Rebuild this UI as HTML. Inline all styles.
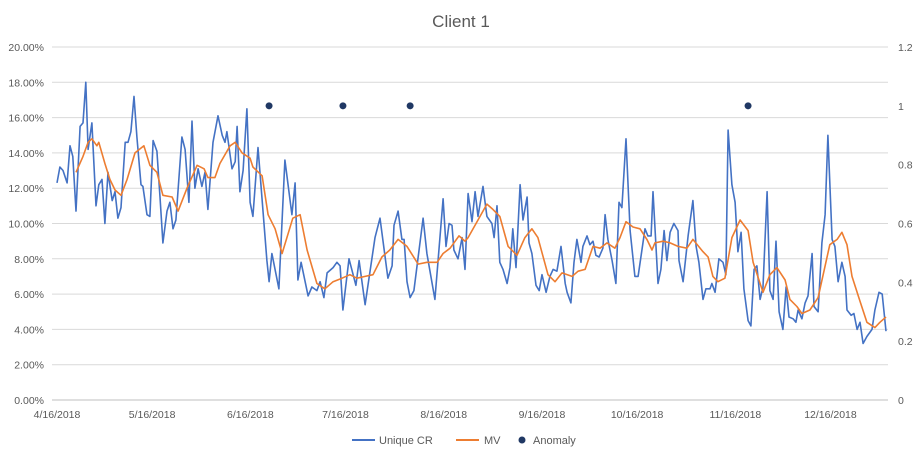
<!DOCTYPE html>
<html><head><meta charset="utf-8"><style>
body{margin:0;background:#fff;}
svg{display:block;font-family:"Liberation Sans",sans-serif;}
</style></head><body>
<svg id="chart" width="922" height="461">
<rect width="922" height="461" fill="#fff"/>
<text x="461" y="27" text-anchor="middle" font-size="17" fill="#595959">Client 1</text>
<g id="grid"></g>
<g id="yl"></g>
<g id="yr"></g>
<g id="xa"></g>
<g id="series"></g>
<g>
<g><line x1="352" y1="440" x2="375" y2="440" stroke="#4472c4" stroke-width="2"/><text x="379" y="444" font-size="11" fill="#595959">Unique CR</text></g>
<g><line x1="456" y1="440" x2="479" y2="440" stroke="#ed7d31" stroke-width="2"/><text x="484" y="444" font-size="11" fill="#595959">MV</text></g>
<g><circle cx="522" cy="440" r="3.5" fill="#203864"/><text x="533" y="444" font-size="11" fill="#595959">Anomaly</text></g>
</g>
</svg>
<script>
const blueDays=[0,0.9,1.9,3.2,4.1,5.0,6.0,7.3,8.2,9.1,9.8,11.0,11.4,12.3,13.2,14.2,15.1,16.1,17.4,18.3,19.2,20.2,21.5,22.4,23.3,24.3,25.2,26.5,27.1,28.4,29.3,30.3,31.5,32.5,33.4,34.7,35.6,36.6,37.5,39.4,40.4,41.6,42.6,43.5,44.5,45.7,46.7,47.6,49.2,50.8,52.1,53.0,53.6,55.2,56.2,56.8,57.7,58.7,59.9,60.9,61.8,63.4,66.2,66.9,67.8,70.0,71.9,74.1,75.1,76.0,77.0,79.2,80.4,82.0,83.0,84.2,85.2,87.1,88.3,89.3,90.2,92.1,94.3,95.3,97.2,100.3,101.9,104.4,105.7,106.3,107.6,108.8,109.5,110.4,111.4,112.6,115.5,116.7,119.2,121.8,122.7,123.7,124.6,125.2,126.5,127.8,128.7,129.7,130.9,131.9,132.8,134.4,135.6,137.2,137.9,138.8,139.7,140.7,142.0,142.9,143.8,144.8,146.1,147.0,148.3,148.9,149.8,151.1,152.1,153.0,154.3,155.5,156.5,157.7,159.0,160.3,160.9,162.1,163.1,164.0,165.3,165.9,167.2,168.1,169.1,170.0,171.0,172.2,172.9,173.8,175.1,176.3,177.3,178.2,179.5,180.8,182.3,183.3,185.5,186.4,187.4,188.0,189.6,190.5,191.5,192.4,193.4,194.6,195.9,196.2,197.5,199.1,200.6,201.6,202.5,203.8,204.7,206.0,206.6,207.6,208.8,210.1,211.0,211.7,212.9,213.9,214.8,215.8,216.7,218.0,218.9,219.9,220.8,221.8,222.7,224.0,224.9,225.9,226.8,227.8,229.0,230.0,230.9,232.2,233.1,233.8,235.0,236.0,236.9,238.2,238.8,240.1,241.3,242.3,243.2,244.5,245.4,246.4,247.6,248.6,249.2,250.5,251.4,252.4,253.3,254.3,255.5,257.1,258.0,259.3,260.3,261.5];
const uniqueCR=[12.3,13.2,13.0,12.3,14.4,13.8,10.7,15.5,15.7,18.0,14.2,15.7,14.3,11.0,12.2,12.5,10.0,12.9,11.3,11.8,10.3,10.9,14.6,14.6,15.2,17.2,14.9,12.2,12.1,10.5,10.4,14.7,14.1,11.5,8.9,10.7,11.2,9.7,10.2,14.9,14.2,11.2,15.8,12.0,13.1,12.1,12.9,10.8,14.6,16.1,15.0,14.6,15.2,13.1,13.5,15.5,11.8,13.0,16.5,11.2,10.4,14.3,7.9,6.7,8.3,6.3,13.6,10.5,12.3,6.8,7.8,5.9,6.4,6.2,6.7,5.8,7.2,7.5,7.8,7.6,5.1,8.0,6.5,7.9,5.4,9.2,10.3,6.9,7.6,9.9,10.7,9.1,9.1,6.7,5.8,6.2,10.3,8.3,5.7,11.4,8.7,10.0,9.9,8.5,8.0,9.2,7.4,11.7,10.1,11.8,10.4,12.1,10.4,10.0,9.2,11.0,7.8,7.4,6.6,7.5,9.7,7.5,12.2,10.2,11.5,8.9,8.3,6.5,6.2,7.1,6.1,7.0,7.4,7.3,8.7,6.6,6.1,5.5,7.8,9.1,7.8,8.7,9.3,8.8,9.0,8.2,8.1,8.6,10.5,9.1,7.9,6.6,11.2,10.9,14.8,9.6,7.0,7.0,9.7,9.3,9.3,11.8,6.6,7.4,9.6,7.9,9.5,10.0,9.6,7.9,6.7,9.3,11.3,8.7,7.8,5.7,6.3,6.3,6.6,6.1,8.0,7.8,7.1,15.3,12.2,11.2,8.4,9.5,6.3,4.5,4.2,7.4,7.6,5.7,6.4,11.8,6.2,5.7,9.0,5.0,4.0,6.4,4.7,4.6,4.4,5.1,4.6,5.5,5.9,8.3,5.3,5.0,8.9,10.5,15.0,9.1,8.7,6.7,7.8,7.0,5.1,4.8,4.9,4.0,4.4,3.2,3.6,4.0,5.1,6.1,6.0,3.9];
const mvDays=[6.0,8.2,9.8,11.0,12.6,13.2,15.1,16.7,18.3,20.2,22.1,24.6,27.4,29.3,31.5,33.4,36.3,38.2,41.0,44.2,46.4,47.6,49.8,51.4,54.6,56.2,58.4,60.9,61.8,64.7,66.6,68.8,71.0,74.4,76.7,78.9,82.0,84.5,87.1,89.9,92.4,94.6,97.2,99.7,102.5,105.0,107.6,110.4,113.9,116.7,119.9,121.8,124.0,126.8,128.7,129.7,132.8,135.6,137.5,139.7,142.3,145.1,147.6,149.8,151.7,154.9,157.1,159.3,162.5,164.4,166.6,169.1,171.3,173.5,176.0,177.6,179.5,181.7,183.9,186.1,187.7,188.6,191.2,193.4,195.9,198.7,200.6,203.8,205.4,206.9,208.5,210.7,212.9,215.5,218.0,219.6,222.7,224.9,227.1,229.7,231.2,233.4,235.0,237.5,240.1,242.3,243.8,246.1,247.6,249.2,250.8,253.3,255.5,258.0,259.6,261.5];
const mvValues=[12.9,13.8,14.6,14.8,14.4,14.6,13.4,12.5,11.9,11.6,12.5,14.0,14.4,13.3,12.9,11.6,11.5,10.7,12.0,13.3,13.1,12.6,12.6,13.4,14.4,14.6,14.0,13.7,13.2,12.7,10.5,9.7,8.3,10.3,10.5,8.5,6.6,6.3,6.7,6.9,7.1,6.9,7.0,7.1,8.1,8.5,9.1,8.7,7.7,7.8,7.8,8.3,8.6,9.3,9.0,9.2,10.2,11.1,10.8,10.4,8.7,8.2,9.2,9.7,9.2,7.1,6.7,7.2,7.0,7.3,7.4,8.7,8.6,8.9,8.6,9.2,10.1,9.8,9.7,9.1,8.5,8.9,9.0,8.9,8.7,8.6,9.1,8.4,8.1,7.0,6.7,6.9,9.2,10.2,9.6,7.8,6.1,7.1,7.5,6.8,5.7,5.3,4.9,5.1,5.8,7.6,8.8,9.1,9.5,8.8,7.0,5.6,4.4,4.1,4.4,4.7];
const anomalyDays=[66.9,90.2,111.4,218.0];
const anomalyValues=[1,1,1,1];
const leftTicks=["0.00%","2.00%","4.00%","6.00%","8.00%","10.00%","12.00%","14.00%","16.00%","18.00%","20.00%"];
const rightTicks=["0","0.2","0.4","0.6","0.8","1","1.2"];
const dateLabels=["4/16/2018","5/16/2018","6/16/2018","7/16/2018","8/16/2018","9/16/2018","10/16/2018","11/16/2018","12/16/2018"];
const dateOffsets=[0,30,61,91,122,153,183,214,244];

const NS="http://www.w3.org/2000/svg";
const X0=57,PX=3.17,Y0=400,Y1=47;
const x=d=>X0+d*PX;
const yL=v=>Y0-(v/20)*(Y0-Y1);
const yR=v=>Y0-(v/1.2)*(Y0-Y1);
function mk(tag,attrs,parent){const e=document.createElementNS(NS,tag);for(const k in attrs)e.setAttribute(k,attrs[k]);parent.appendChild(e);return e;}
const grid=document.getElementById('grid'),yl=document.getElementById('yl'),yr=document.getElementById('yr'),xa=document.getElementById('xa'),ser=document.getElementById('series');
leftTicks.forEach((t,i)=>{const v=i*2;const yy=yL(v);
 const g=mk('line',{x1:52,x2:888,y1:yy,y2:yy,stroke:i==0?'#bfbfbf':'#d9d9d9','stroke-width':1},grid);
 
 
 const tx=mk('text',{x:44,y:yy+4,'text-anchor':'end','font-size':10.5,fill:'#595959'},yl);tx.textContent=t;
 
 
});
rightTicks.forEach((t,i)=>{const yy=yR(i*0.2);
 const tx=mk('text',{x:898,y:yy+4,'font-size':10.5,fill:'#595959'},yr);tx.textContent=t;
 
 
});
dateLabels.forEach((t,i)=>{
 const tx=mk('text',{x:x(dateOffsets[i]),y:418,'text-anchor':'middle','font-size':10.5,fill:'#595959'},xa);tx.textContent=t;
 
 
});
function path(days,vals,color,name){
 const d=days.map((dd,i)=>(i?'L':'M')+x(dd).toFixed(1)+','+yL(vals[i]).toFixed(1)).join('');
 const p=mk('path',{d:d,fill:'none',stroke:color,'stroke-width':1.6,'stroke-linejoin':'round'},ser);
 
 
}
path(blueDays,uniqueCR,'#4472c4','unique-cr-line');
path(mvDays,mvValues,'#ed7d31','mv-line');
anomalyDays.forEach((d,i)=>{
 const c=mk('circle',{cx:x(d),cy:yR(anomalyValues[i]),r:3.5,fill:'#203864'},ser);
 
 
});
</script>
</body></html>
